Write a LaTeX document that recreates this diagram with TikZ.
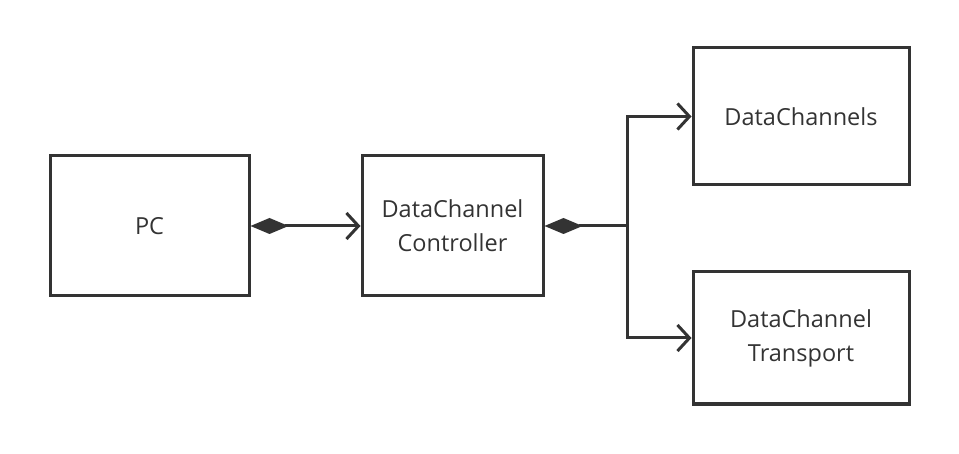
\documentclass[tikz,border=0pt]{standalone}
\usepackage{fontspec}
\setmainfont{Open Sans}
\usetikzlibrary{arrows.meta}
\definecolor{ink}{HTML}{333333}
\begin{document}
\begin{tikzpicture}[x=1pt,y=-1pt,
  box/.style={draw=ink,line width=3pt,inner sep=0pt,align=center,font=\fontsize{23.5}{34}\selectfont,text=ink},
  conn/.style={draw=ink,line width=3pt},
  dia/.tip={Diamond[length=38pt,width=16pt,fill=ink]},
  barb/.tip={Straight Barb[length=12pt,width=26pt,line width=3pt]}]
\useasboundingbox (0,0) rectangle (959,454);
\node[box,minimum width=199pt,minimum height=140pt] (pc) at (149.5,226) {PC};
\node[box,minimum width=181pt,minimum height=140pt] (ctl) at (452.5,226) {DataChannel\\Controller};
\node[box,minimum width=216pt,minimum height=137pt] (dcs) at (801,116.5) {DataChannels};
\node[box,minimum width=216pt,minimum height=132pt] (dct) at (801,338) {DataChannel\\Transport};
\coordinate (j) at (627,226);
\draw[conn,dia-barb] (pc.east) -- (ctl.west);
\draw[conn,dia-] (ctl.east) -- (j);
\draw[conn,-barb] (j) |- (dcs.west);
\draw[conn,-barb] (j) |- (dct.west);
\end{tikzpicture}
\end{document}
